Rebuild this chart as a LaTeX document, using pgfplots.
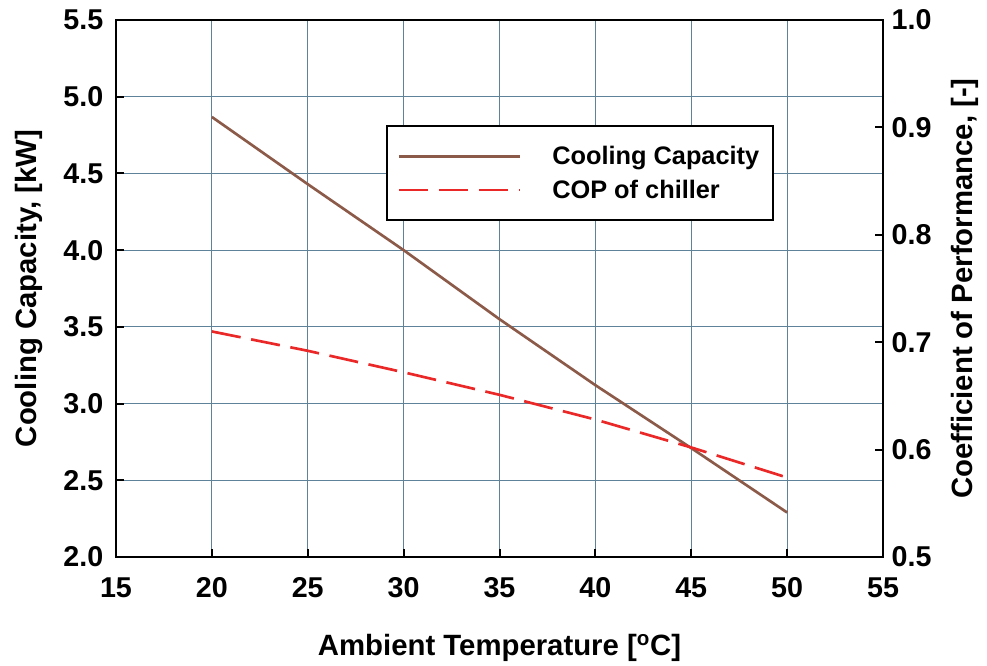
\documentclass[border=0pt]{standalone}
\usepackage{fontspec}
\setmainfont{Liberation Sans}
\usepackage{pgfplots}
\pgfplotsset{compat=1.18}
\definecolor{gridc}{RGB}{95,130,155}
\definecolor{capc}{RGB}{140,90,72}
\definecolor{copc}{RGB}{235,40,40}
\begin{document}
\begin{tikzpicture}
\useasboundingbox (-87pt,-81pt) rectangle (653.25pt,417.75pt);
\pgfplotsset{
 every axis/.append style={
  scale only axis, width=575.25pt, height=402.75pt,
  xmin=15, xmax=55,
  /pgf/number format/assume math mode=true,
  tick label style={font=\bfseries\fontsize{21.5}{25}\selectfont, text=black},
  label style={font=\bfseries\fontsize{22}{26}\selectfont},
  tick align=inside, major tick length=6pt,
  tick style={black, line width=1.5pt},
  axis line style={line width=2pt},
 }
}
\begin{axis}[
 ymin=2, ymax=5.5, ytick={2,2.5,3,3.5,4,4.5,5,5.5},
 xtick={15,20,25,30,35,40,45,50,55},
 xtick pos=left, ytick pos=left,
 grid=major, grid style={gridc, line width=0.75pt},
 yticklabel style={xshift=-6pt, /pgf/number format/.cd, fixed, fixed zerofill, precision=1},
 xticklabel style={yshift=-12pt},
 ylabel={Cooling Capacity, [kW]},
 ylabel style={at={(axis description cs:-0.114,0.5)}, anchor=center},
 xlabel={Ambient Temperature [\textsuperscript{o}C]},
 xlabel style={at={(axis description cs:0.5,-0.17)}, anchor=center},
]
\addplot[capc, line width=2pt] coordinates {(20,4.868) (25,4.43) (30,4.00) (35,3.55) (40,3.12) (45,2.71) (50,2.29)};
\end{axis}
\begin{axis}[
 ymin=0.5, ymax=1, ytick={0.5,0.6,0.7,0.8,0.9,1.0},
 axis x line=none, axis y line*=right,
 yticklabel style={xshift=3pt, /pgf/number format/.cd, fixed, fixed zerofill, precision=1},
 ylabel={Coefficient of Performance, [-]},
 ylabel style={at={(axis description cs:1.107,0.5)}, anchor=center},
 legend style={at={(0.352,0.804)}, anchor=north west, draw=black, line width=1.5pt,
   font=\bfseries\fontsize{19}{23}\selectfont, inner xsep=8pt, inner ysep=13pt, row sep=6pt,
   /tikz/every odd column/.append style={column sep=21pt}},
 legend cell align=left,
 legend image code/.code={\draw[#1] (0pt,0pt) -- (91pt,0pt);},
]
\addlegendimage{capc, line width=2pt}
\addlegendentry{Cooling Capacity}
\addplot[copc, line width=2pt, dash pattern=on 22pt off 8pt] coordinates {(20,0.710) (25,0.692) (30,0.672) (35,0.651) (40,0.628) (45,0.602) (50,0.574)};
\addlegendentry{COP of chiller}
\end{axis}
\end{tikzpicture}
\end{document}
